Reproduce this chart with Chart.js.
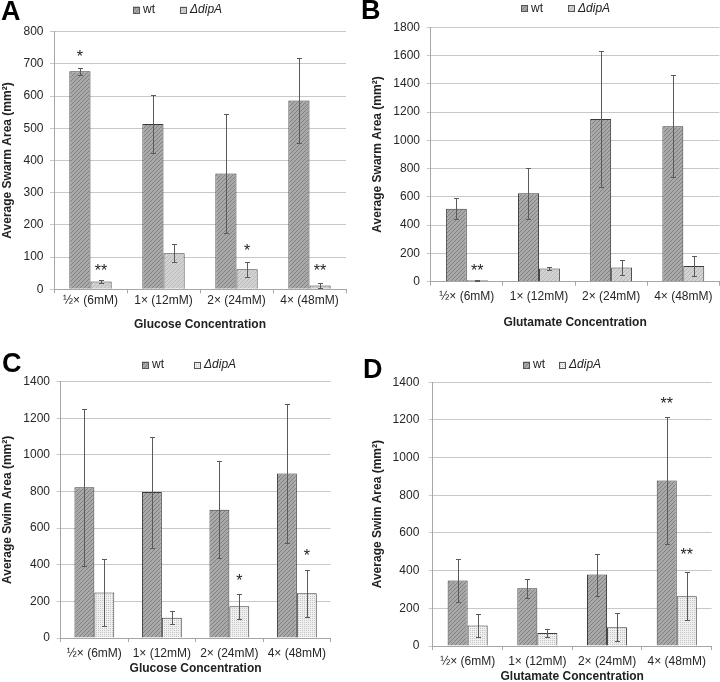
<!DOCTYPE html>
<html>
<head>
<meta charset="utf-8">
<script src="https://cdn.jsdelivr.net/npm/chart.js@4.4.1/dist/chart.umd.min.js"></script>
<style>
  body { margin: 0; background: #fff; }
  #wrap { position: relative; width: 720px; height: 682px; }
  canvas { position: absolute; }
</style>
</head>
<body>
<div id="wrap">
  <canvas id="cA" width="360" height="340" style="left:0;top:0"></canvas>
  <canvas id="cB" width="360" height="340" style="left:360px;top:0"></canvas>
  <canvas id="cC" width="360" height="342" style="left:0;top:340px"></canvas>
  <canvas id="cD" width="360" height="342" style="left:360px;top:340px"></canvas>
</div>
<script>
// categories and series
const categories = ['½× (6mM)', '1× (12mM)', '2× (24mM)', '4× (48mM)'];
const seriesNames = ['wt', 'ΔdipA'];

// A: swarm area, glucose
const swarmGluWt = [677, 513, 360, 586];
const swarmGluWtErr = [10, 90, 184, 133];
const swarmGluDip = [24, 112, 62, 12];
const swarmGluDipErr = [5, 28, 23, 9];

// B: swarm area, glutamate
const swarmGlutWt = [517, 625, 1151, 1099];
const swarmGlutWtErr = [75, 178, 478, 360];
const swarmGlutDip = [10, 94, 101, 111];
const swarmGlutDipErr = [3, 12, 52, 72];

// C: swim area, glucose
const swimGluWt = [823, 797, 701, 899];
const swimGluWtErr = [428, 303, 265, 378];
const swimGluDip = [249, 111, 173, 244];
const swimGluDipErr = [185, 35, 70, 130];

// D: swim area, glutamate
const swimGlutWt = [348, 307, 379, 879];
const swimGlutWtErr = [113, 50, 112, 337];
const swimGlutDip = [109, 69, 99, 264];
const swimGlutDipErr = [63, 19, 74, 128];

// significance marks: series index, category index, text, value where it sits
const starsA = [[0, 0, '*', 733], [1, 0, '**', 70], [1, 2, '*', 130], [1, 3, '**', 70]];
const starsB = [[1, 0, '**', 106]];
const starsC = [[1, 2, '*', 331], [1, 3, '*', 468]];
const starsD = [[0, 3, '**', 1306], [1, 3, '**', 506]];

const FONT = '"Liberation Sans", Arial, sans-serif';

function hatch(base, line) {
  const c = document.createElement('canvas');
  c.width = 4; c.height = 4;
  const g = c.getContext('2d');
  g.fillStyle = base;
  g.fillRect(0, 0, 4, 4);
  g.strokeStyle = line;
  g.lineWidth = 1;
  g.beginPath();
  g.moveTo(0, 4); g.lineTo(4, 0);
  g.moveTo(-1, 1); g.lineTo(1, -1);
  g.moveTo(3, 5); g.lineTo(5, 3);
  g.stroke();
  return g.createPattern(c, 'repeat');
}

function dots(base, dot) {
  const c = document.createElement('canvas');
  c.width = 2; c.height = 2;
  const g = c.getContext('2d');
  g.fillStyle = base;
  g.fillRect(0, 0, 2, 2);
  g.fillStyle = dot;
  g.fillRect(0, 0, 1, 1);
  return g.createPattern(c, 'repeat');
}

const wtFill = hatch('#a9a9a9', '#808080');
const dipHatch = hatch('#d2d2d2', '#bababa');
const dipDots = dots('#f0f0f0', '#c4c4c4');

const extras = {
  id: 'extras',
  afterDatasetsDraw(chart, args, o) {
    const ctx = chart.ctx, y = chart.scales.y;
    ctx.save();
    ctx.strokeStyle = '#5a5a5a';
    ctx.lineWidth = 1;
    chart.data.datasets.forEach((ds, di) => {
      chart.getDatasetMeta(di).data.forEach((bar, i) => {
        const x = Math.round(bar.x) + 0.5;
        const yt = Math.round(y.getPixelForValue(ds.data[i] + ds.errors[i])) + 0.5;
        const yb = Math.round(y.getPixelForValue(Math.max(0, ds.data[i] - ds.errors[i]))) + 0.5;
        ctx.beginPath();
        ctx.moveTo(x, yt); ctx.lineTo(x, yb);
        ctx.moveTo(x - 2.5, yt); ctx.lineTo(x + 2.5, yt);
        ctx.moveTo(x - 2.5, yb); ctx.lineTo(x + 2.5, yb);
        ctx.stroke();
      });
    });
    ctx.fillStyle = '#222';
    ctx.font = '16px ' + FONT;
    ctx.textAlign = 'center';
    ctx.textBaseline = 'alphabetic';
    o.stars.forEach(s => {
      const bar = chart.getDatasetMeta(s[0]).data[s[1]];
      ctx.fillText(s[2], bar.x, y.getPixelForValue(s[3]) + 9);
    });
    ctx.restore();
  },
  afterDraw(chart, args, o) {
    const ctx = chart.ctx;
    ctx.save();
    // legend
    ctx.textBaseline = 'middle';
    ctx.textAlign = 'left';
    chart.data.datasets.forEach((ds, di) => {
      const bx = o.legend[di];
      ctx.fillStyle = ds.backgroundColor;
      ctx.fillRect(bx, o.legendY - 3.5, 7, 7);
      ctx.strokeStyle = '#555';
      ctx.lineWidth = 1;
      ctx.strokeRect(Math.round(bx) + 0.5, Math.round(o.legendY - 3.5) + 0.5, 6, 6);
      ctx.fillStyle = '#222';
      ctx.font = (di === 1 ? 'italic ' : '') + '12px ' + FONT;
      ctx.fillText(ds.label, bx + 10, o.legendY);
    });
    // panel letter
    ctx.font = 'bold 27px ' + FONT;
    ctx.textBaseline = 'alphabetic';
    ctx.fillStyle = '#000';
    ctx.fillText(o.letter, o.letterX, o.letterY);
    ctx.restore();
  }
};

function makePanel(p) {
  const cv = document.getElementById(p.id);
  const W = cv.width, H = cv.height;
  return new Chart(cv, {
    type: 'bar',
    data: {
      labels: categories,
      datasets: [
        { label: seriesNames[0], data: p.wt, errors: p.wtErr, backgroundColor: wtFill },
        { label: seriesNames[1], data: p.dip, errors: p.dipErr, backgroundColor: p.dipFill }
      ]
    },
    options: {
      responsive: false,
      animation: false,
      devicePixelRatio: 1,
      layout: { padding: { top: p.area.t, left: 0, right: W - p.area.r, bottom: 0 } },
      datasets: {
        bar: {
          borderColor: '#3a3a3a',
          borderWidth: 1,
          borderSkipped: 'bottom',
          categoryPercentage: p.cat,
          barPercentage: 1
        }
      },
      scales: {
        x: {
          afterFit(s) { s.height = H - p.area.b; },
          grid: { drawOnChartArea: false, tickLength: 4, color: '#a6a6a6', offset: true },
          border: { color: '#a6a6a6' },
          ticks: { padding: p.xPad, color: '#262626', font: { family: FONT, size: 12 }, maxRotation: 0, autoSkip: false },
          title: { display: true, text: p.xTitle, color: '#222', font: { family: FONT, size: 12, weight: 'bold' },
                   padding: { top: 0, bottom: H - p.xTitleY - 7.2 } }
        },
        y: {
          min: 0, max: p.max,
          afterFit(s) { s.width = p.area.l; },
          grid: { color: '#c8c8c8', tickLength: 4 },
          border: { color: '#a6a6a6' },
          ticks: { stepSize: p.step, padding: p.yPad, color: '#262626', font: { family: FONT, size: 12 },
                   callback: v => String(v) },
          title: { display: true, text: p.yTitle, color: '#222', font: { family: FONT, size: 12, weight: 'bold' },
                   padding: { top: p.yTitleX - 7.2, bottom: 0 } }
        }
      },
      plugins: {
        legend: { display: false },
        tooltip: { enabled: false },
        extras: { stars: p.stars, legend: p.legend, legendY: p.legendY, letter: p.letter, letterX: p.letterX, letterY: p.letterY }
      }
    },
    plugins: [extras]
  });
}

makePanel({
  id: 'cA', letter: 'A', letterX: 1, letterY: 20,
  yTitle: 'Average Swarm Area (mm²)', xTitle: 'Glucose Concentration',
  max: 800, step: 100,
  wt: swarmGluWt, wtErr: swarmGluWtErr, dip: swarmGluDip, dipErr: swarmGluDipErr, dipFill: dipHatch,
  stars: starsA,
  area: { l: 54, r: 346, t: 31.7, b: 289.3 }, cat: 0.58,
  yPad: 6.5, xPad: 0.5, yTitleX: 8, xTitleY: 325,
  legend: [133, 180], legendY: 10
});

makePanel({
  id: 'cB', letter: 'B', letterX: 1, letterY: 19,
  yTitle: 'Average Swarm Area (mm²)', xTitle: 'Glutamate Concentration',
  max: 1800, step: 200,
  wt: swarmGlutWt, wtErr: swarmGlutWtErr, dip: swarmGlutDip, dipErr: swarmGlutDipErr, dipFill: dipHatch,
  stars: starsB,
  area: { l: 70.7, r: 359.4, t: 27.3, b: 281.7 }, cat: 0.58,
  yPad: 6.7, xPad: 3.8, yTitleX: 18, xTitleY: 323,
  legend: [161, 208], legendY: 8.5
});

makePanel({
  id: 'cC', letter: 'C', letterX: 2, letterY: 32,
  yTitle: 'Average Swim Area (mm²)', xTitle: 'Glucose Concentration',
  max: 1400, step: 200,
  wt: swimGluWt, wtErr: swimGluWtErr, dip: swimGluDip, dipErr: swimGluDipErr, dipFill: dipDots,
  stars: starsC,
  area: { l: 60.6, r: 330.6, t: 41.7, b: 298 }, cat: 0.59,
  yPad: 6.6, xPad: 4.1, yTitleX: 8, xTitleY: 328.3,
  legend: [142, 194], legendY: 25
});

makePanel({
  id: 'cD', letter: 'D', letterX: 3, letterY: 38,
  yTitle: 'Average Swim Area (mm²)', xTitle: 'Glutamate Concentration',
  max: 1400, step: 200,
  wt: swimGlutWt, wtErr: swimGlutWtErr, dip: swimGlutDip, dipErr: swimGlutDipErr, dipFill: dipDots,
  stars: starsD,
  area: { l: 72.8, r: 351.6, t: 42.3, b: 306 }, cat: 0.575,
  yPad: 9.5, xPad: 4.5, yTitleX: 18, xTitleY: 336.7,
  legend: [163, 199], legendY: 25
});
</script>
</body>
</html>
